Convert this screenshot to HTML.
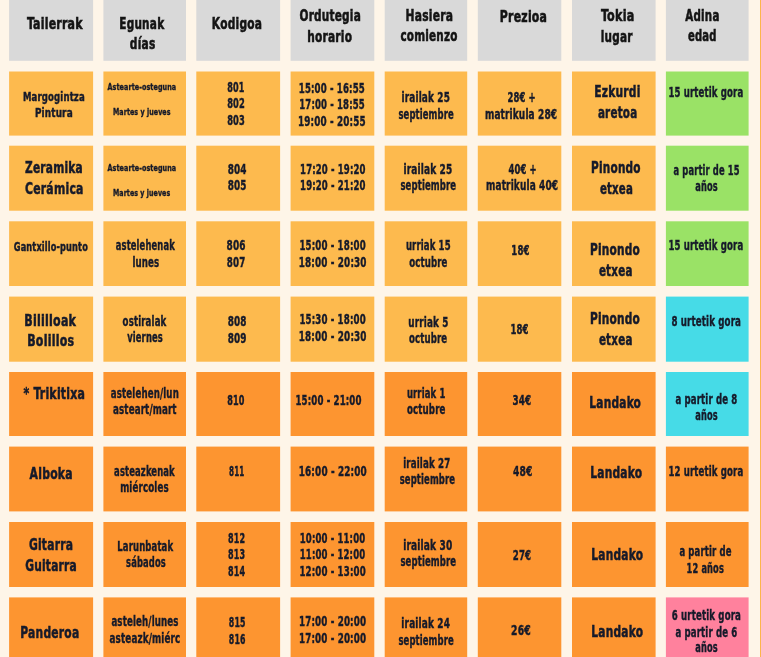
<!DOCTYPE html>
<html><head><meta charset="utf-8"><title>Tailerrak</title><style>
html,body{margin:0;padding:0;background:#fef5e8;}
body{width:761px;height:657px;overflow:hidden;}
svg{display:block;filter:blur(0.35px);}
text{font-family:"DejaVu Sans Condensed", "DejaVu Sans", sans-serif;font-weight:bold;fill:#161a2a;white-space:pre;}
.H{font-size:16.1px;stroke:#161a2a;stroke-width:0.55px;letter-spacing:0.3px;}
.N{font-size:16.2px;stroke:#161a2a;stroke-width:0.5px;letter-spacing:0.3px;}
.M{font-size:12.9px;stroke:#161a2a;stroke-width:0.45px;letter-spacing:0.2px;}
.B{font-size:13.4px;stroke:#161a2a;stroke-width:0.4px;letter-spacing:0.2px;}
.S{font-size:9.0px;stroke:#161a2a;stroke-width:0.35px;letter-spacing:0.1px;}
.H{fill:#141414;stroke:#141414;}
</style></head><body>
<svg width="761" height="657" viewBox="0 0 761 657">
<rect x="0" y="0" width="761" height="657" fill="#fef5e8"/>
<rect x="9.10" y="-4.00" width="84.00" height="64.80" fill="#d9d9d9"/>
<rect x="103.40" y="-4.00" width="82.60" height="64.80" fill="#d9d9d9"/>
<rect x="196.30" y="-4.00" width="83.80" height="64.80" fill="#d9d9d9"/>
<rect x="290.60" y="-4.00" width="83.70" height="64.80" fill="#d9d9d9"/>
<rect x="384.70" y="-4.00" width="82.50" height="64.80" fill="#d9d9d9"/>
<rect x="477.80" y="-4.00" width="83.50" height="64.80" fill="#d9d9d9"/>
<rect x="572.00" y="-4.00" width="83.60" height="64.80" fill="#d9d9d9"/>
<rect x="665.90" y="-4.00" width="82.70" height="64.80" fill="#d9d9d9"/>
<rect x="9.10" y="71.50" width="84.00" height="64.10" fill="#fdba4e"/>
<rect x="103.40" y="71.50" width="82.60" height="64.10" fill="#fdba4e"/>
<rect x="196.30" y="71.50" width="83.80" height="64.10" fill="#fdba4e"/>
<rect x="290.60" y="71.50" width="83.70" height="64.10" fill="#fdba4e"/>
<rect x="384.70" y="71.50" width="82.50" height="64.10" fill="#fdba4e"/>
<rect x="477.80" y="71.50" width="83.50" height="64.10" fill="#fdba4e"/>
<rect x="572.00" y="71.50" width="83.60" height="64.10" fill="#fdba4e"/>
<rect x="665.90" y="71.50" width="82.70" height="64.10" fill="#9ae266"/>
<rect x="9.10" y="145.70" width="84.00" height="65.00" fill="#fdba4e"/>
<rect x="103.40" y="145.70" width="82.60" height="65.00" fill="#fdba4e"/>
<rect x="196.30" y="145.70" width="83.80" height="65.00" fill="#fdba4e"/>
<rect x="290.60" y="145.70" width="83.70" height="65.00" fill="#fdba4e"/>
<rect x="384.70" y="145.70" width="82.50" height="65.00" fill="#fdba4e"/>
<rect x="477.80" y="145.70" width="83.50" height="65.00" fill="#fdba4e"/>
<rect x="572.00" y="145.70" width="83.60" height="65.00" fill="#fdba4e"/>
<rect x="665.90" y="145.70" width="82.70" height="65.00" fill="#9ae266"/>
<rect x="9.10" y="221.30" width="84.00" height="64.70" fill="#fdba4e"/>
<rect x="103.40" y="221.30" width="82.60" height="64.70" fill="#fdba4e"/>
<rect x="196.30" y="221.30" width="83.80" height="64.70" fill="#fdba4e"/>
<rect x="290.60" y="221.30" width="83.70" height="64.70" fill="#fdba4e"/>
<rect x="384.70" y="221.30" width="82.50" height="64.70" fill="#fdba4e"/>
<rect x="477.80" y="221.30" width="83.50" height="64.70" fill="#fdba4e"/>
<rect x="572.00" y="221.30" width="83.60" height="64.70" fill="#fdba4e"/>
<rect x="665.90" y="221.30" width="82.70" height="64.70" fill="#9ae266"/>
<rect x="9.10" y="296.60" width="84.00" height="65.10" fill="#fdba4e"/>
<rect x="103.40" y="296.60" width="82.60" height="65.10" fill="#fdba4e"/>
<rect x="196.30" y="296.60" width="83.80" height="65.10" fill="#fdba4e"/>
<rect x="290.60" y="296.60" width="83.70" height="65.10" fill="#fdba4e"/>
<rect x="384.70" y="296.60" width="82.50" height="65.10" fill="#fdba4e"/>
<rect x="477.80" y="296.60" width="83.50" height="65.10" fill="#fdba4e"/>
<rect x="572.00" y="296.60" width="83.60" height="65.10" fill="#fdba4e"/>
<rect x="665.90" y="296.60" width="82.70" height="65.10" fill="#46dbe7"/>
<rect x="9.10" y="372.00" width="84.00" height="64.00" fill="#fd9530"/>
<rect x="103.40" y="372.00" width="82.60" height="64.00" fill="#fd9530"/>
<rect x="196.30" y="372.00" width="83.80" height="64.00" fill="#fd9530"/>
<rect x="290.60" y="372.00" width="83.70" height="64.00" fill="#fd9530"/>
<rect x="384.70" y="372.00" width="82.50" height="64.00" fill="#fd9530"/>
<rect x="477.80" y="372.00" width="83.50" height="64.00" fill="#fd9530"/>
<rect x="572.00" y="372.00" width="83.60" height="64.00" fill="#fd9530"/>
<rect x="665.90" y="372.00" width="82.70" height="64.00" fill="#46dbe7"/>
<rect x="9.10" y="446.60" width="84.00" height="64.80" fill="#fd9530"/>
<rect x="103.40" y="446.60" width="82.60" height="64.80" fill="#fd9530"/>
<rect x="196.30" y="446.60" width="83.80" height="64.80" fill="#fd9530"/>
<rect x="290.60" y="446.60" width="83.70" height="64.80" fill="#fd9530"/>
<rect x="384.70" y="446.60" width="82.50" height="64.80" fill="#fd9530"/>
<rect x="477.80" y="446.60" width="83.50" height="64.80" fill="#fd9530"/>
<rect x="572.00" y="446.60" width="83.60" height="64.80" fill="#fd9530"/>
<rect x="665.90" y="446.60" width="82.70" height="64.80" fill="#fd9530"/>
<rect x="9.10" y="522.00" width="84.00" height="65.00" fill="#fd9530"/>
<rect x="103.40" y="522.00" width="82.60" height="65.00" fill="#fd9530"/>
<rect x="196.30" y="522.00" width="83.80" height="65.00" fill="#fd9530"/>
<rect x="290.60" y="522.00" width="83.70" height="65.00" fill="#fd9530"/>
<rect x="384.70" y="522.00" width="82.50" height="65.00" fill="#fd9530"/>
<rect x="477.80" y="522.00" width="83.50" height="65.00" fill="#fd9530"/>
<rect x="572.00" y="522.00" width="83.60" height="65.00" fill="#fd9530"/>
<rect x="665.90" y="522.00" width="82.70" height="65.00" fill="#fd9530"/>
<rect x="9.10" y="597.40" width="84.00" height="72.60" fill="#fd9530"/>
<rect x="103.40" y="597.40" width="82.60" height="72.60" fill="#fd9530"/>
<rect x="196.30" y="597.40" width="83.80" height="72.60" fill="#fd9530"/>
<rect x="290.60" y="597.40" width="83.70" height="72.60" fill="#fd9530"/>
<rect x="384.70" y="597.40" width="82.50" height="72.60" fill="#fd9530"/>
<rect x="477.80" y="597.40" width="83.50" height="72.60" fill="#fd9530"/>
<rect x="572.00" y="597.40" width="83.60" height="72.60" fill="#fd9530"/>
<rect x="665.90" y="597.40" width="82.70" height="72.60" fill="#ff819d"/>
<rect x="760" y="0" width="1" height="657" fill="#fdb54a"/>
<text class="H" x="26.90" y="29.20" textLength="55.84" lengthAdjust="spacingAndGlyphs">Tailerrak</text>
<text class="H" x="119.27" y="28.90" textLength="45.07" lengthAdjust="spacingAndGlyphs">Egunak</text>
<text class="H" x="129.80" y="48.90" textLength="25.68" lengthAdjust="spacingAndGlyphs">días</text>
<text class="H" x="211.86" y="28.90" textLength="50.32" lengthAdjust="spacingAndGlyphs">Kodigoa</text>
<text class="H" x="299.50" y="21.30" textLength="61.48" lengthAdjust="spacingAndGlyphs">Ordutegia</text>
<text class="H" x="307.27" y="42.30" textLength="44.91" lengthAdjust="spacingAndGlyphs">horario</text>
<text class="H" x="405.56" y="20.80" textLength="47.53" lengthAdjust="spacingAndGlyphs">Hasiera</text>
<text class="H" x="400.40" y="40.70" textLength="57.28" lengthAdjust="spacingAndGlyphs">comienzo</text>
<text class="H" x="499.85" y="21.70" textLength="47.36" lengthAdjust="spacingAndGlyphs">Prezioa</text>
<text class="H" x="600.90" y="21.40" textLength="33.62" lengthAdjust="spacingAndGlyphs">Tokia</text>
<text class="H" x="600.78" y="42.30" textLength="31.82" lengthAdjust="spacingAndGlyphs">lugar</text>
<text class="H" x="685.30" y="20.60" textLength="34.26" lengthAdjust="spacingAndGlyphs">Adina</text>
<text class="H" x="687.90" y="41.00" textLength="28.76" lengthAdjust="spacingAndGlyphs">edad</text>
<text class="M" x="22.97" y="100.50" textLength="61.89" lengthAdjust="spacingAndGlyphs">Margogintza</text>
<text class="M" x="34.94" y="116.50" textLength="37.85" lengthAdjust="spacingAndGlyphs">Pintura</text>
<text class="S" x="107.50" y="90.00" textLength="68.75" lengthAdjust="spacingAndGlyphs">Astearte-osteguna</text>
<text class="S" x="113.00" y="115.00" textLength="57.54" lengthAdjust="spacingAndGlyphs">Martes y jueves</text>
<text class="B" x="227.20" y="91.90" textLength="17.29" lengthAdjust="spacingAndGlyphs">801</text>
<text class="B" x="227.20" y="108.40" textLength="17.80" lengthAdjust="spacingAndGlyphs">802</text>
<text class="B" x="227.20" y="124.80" textLength="17.80" lengthAdjust="spacingAndGlyphs">803</text>
<text class="B" x="298.79" y="93.00" textLength="66.13" lengthAdjust="spacingAndGlyphs">15:00 - 16:55</text>
<text class="B" x="299.29" y="109.30" textLength="65.62" lengthAdjust="spacingAndGlyphs">17:00 - 18:55</text>
<text class="B" x="298.07" y="126.10" textLength="67.76" lengthAdjust="spacingAndGlyphs">19:00 - 20:55</text>
<text class="B" x="401.56" y="102.20" textLength="48.47" lengthAdjust="spacingAndGlyphs">irailak 25</text>
<text class="B" x="398.40" y="118.90" textLength="55.46" lengthAdjust="spacingAndGlyphs">septiembre</text>
<text class="B" x="507.40" y="102.20" textLength="28.31" lengthAdjust="spacingAndGlyphs">28€ +</text>
<text class="B" x="484.96" y="118.90" textLength="72.17" lengthAdjust="spacingAndGlyphs">matrikula 28€</text>
<text class="N" x="594.16" y="96.90" textLength="46.48" lengthAdjust="spacingAndGlyphs">Ezkurdi</text>
<text class="N" x="597.90" y="117.60" textLength="39.50" lengthAdjust="spacingAndGlyphs">aretoa</text>
<text class="B" x="668.39" y="96.90" textLength="74.94" lengthAdjust="spacingAndGlyphs">15 urtetik gora</text>
<text class="N" x="25.00" y="173.10" textLength="57.92" lengthAdjust="spacingAndGlyphs">Zeramika</text>
<text class="N" x="25.00" y="194.10" textLength="58.64" lengthAdjust="spacingAndGlyphs">Cerámica</text>
<text class="S" x="107.50" y="170.60" textLength="68.75" lengthAdjust="spacingAndGlyphs">Astearte-osteguna</text>
<text class="S" x="113.00" y="195.50" textLength="57.24" lengthAdjust="spacingAndGlyphs">Martes y jueves</text>
<text class="B" x="227.70" y="173.50" textLength="18.93" lengthAdjust="spacingAndGlyphs">804</text>
<text class="B" x="227.70" y="190.20" textLength="18.93" lengthAdjust="spacingAndGlyphs">805</text>
<text class="B" x="300.09" y="173.50" textLength="65.52" lengthAdjust="spacingAndGlyphs">17:20 - 19:20</text>
<text class="B" x="300.09" y="190.20" textLength="65.52" lengthAdjust="spacingAndGlyphs">19:20 - 21:20</text>
<text class="B" x="403.55" y="173.50" textLength="48.88" lengthAdjust="spacingAndGlyphs">irailak 25</text>
<text class="B" x="400.40" y="190.00" textLength="55.86" lengthAdjust="spacingAndGlyphs">septiembre</text>
<text class="B" x="508.50" y="173.50" textLength="28.20" lengthAdjust="spacingAndGlyphs">40€ +</text>
<text class="B" x="486.06" y="190.20" textLength="72.17" lengthAdjust="spacingAndGlyphs">matrikula 40€</text>
<text class="N" x="590.98" y="173.20" textLength="49.84" lengthAdjust="spacingAndGlyphs">Pinondo</text>
<text class="N" x="599.90" y="193.90" textLength="33.19" lengthAdjust="spacingAndGlyphs">etxea</text>
<text class="B" x="673.50" y="174.80" textLength="66.10" lengthAdjust="spacingAndGlyphs">a partir de 15</text>
<text class="B" x="695.20" y="191.00" textLength="22.56" lengthAdjust="spacingAndGlyphs">años</text>
<text class="M" x="13.80" y="250.90" textLength="74.12" lengthAdjust="spacingAndGlyphs">Gantxillo-punto</text>
<text class="B" x="115.80" y="250.20" textLength="59.05" lengthAdjust="spacingAndGlyphs">astelehenak</text>
<text class="B" x="132.38" y="266.50" textLength="26.98" lengthAdjust="spacingAndGlyphs">lunes</text>
<text class="B" x="226.50" y="249.80" textLength="19.13" lengthAdjust="spacingAndGlyphs">806</text>
<text class="B" x="226.80" y="266.50" textLength="18.62" lengthAdjust="spacingAndGlyphs">807</text>
<text class="B" x="299.38" y="249.80" textLength="66.43" lengthAdjust="spacingAndGlyphs">15:00 - 18:00</text>
<text class="B" x="298.77" y="266.50" textLength="67.86" lengthAdjust="spacingAndGlyphs">18:00 - 20:30</text>
<text class="B" x="405.90" y="250.20" textLength="44.81" lengthAdjust="spacingAndGlyphs">urriak 15</text>
<text class="B" x="409.20" y="266.50" textLength="38.37" lengthAdjust="spacingAndGlyphs">octubre</text>
<text class="B" x="511.29" y="255.10" textLength="18.33" lengthAdjust="spacingAndGlyphs">18€</text>
<text class="N" x="589.97" y="254.80" textLength="50.15" lengthAdjust="spacingAndGlyphs">Pinondo</text>
<text class="N" x="598.90" y="275.70" textLength="33.70" lengthAdjust="spacingAndGlyphs">etxea</text>
<text class="B" x="668.39" y="250.10" textLength="74.94" lengthAdjust="spacingAndGlyphs">15 urtetik gora</text>
<text class="N" x="24.24" y="325.50" textLength="51.95" lengthAdjust="spacingAndGlyphs">Bililloak</text>
<text class="N" x="27.24" y="346.20" textLength="47.09" lengthAdjust="spacingAndGlyphs">Bolillos</text>
<text class="B" x="122.60" y="325.70" textLength="43.84" lengthAdjust="spacingAndGlyphs">ostiralak</text>
<text class="B" x="127.20" y="341.90" textLength="35.76" lengthAdjust="spacingAndGlyphs">viernes</text>
<text class="B" x="227.70" y="326.40" textLength="18.93" lengthAdjust="spacingAndGlyphs">808</text>
<text class="B" x="227.70" y="343.20" textLength="18.93" lengthAdjust="spacingAndGlyphs">809</text>
<text class="B" x="299.38" y="324.40" textLength="66.43" lengthAdjust="spacingAndGlyphs">15:30 - 18:00</text>
<text class="B" x="298.77" y="341.00" textLength="67.86" lengthAdjust="spacingAndGlyphs">18:00 - 20:30</text>
<text class="B" x="408.30" y="326.50" textLength="40.23" lengthAdjust="spacingAndGlyphs">urriak 5</text>
<text class="B" x="408.90" y="342.80" textLength="38.37" lengthAdjust="spacingAndGlyphs">octubre</text>
<text class="B" x="510.39" y="333.60" textLength="18.22" lengthAdjust="spacingAndGlyphs">18€</text>
<text class="N" x="589.97" y="324.40" textLength="50.15" lengthAdjust="spacingAndGlyphs">Pinondo</text>
<text class="N" x="598.90" y="344.90" textLength="33.70" lengthAdjust="spacingAndGlyphs">etxea</text>
<text class="B" x="671.50" y="326.40" textLength="69.53" lengthAdjust="spacingAndGlyphs">8 urtetik gora</text>
<text class="N" x="23.40" y="398.90" textLength="61.85" lengthAdjust="spacingAndGlyphs">* Trikitixa</text>
<text class="B" x="110.80" y="397.60" textLength="68.16" lengthAdjust="spacingAndGlyphs">astelehen/lun</text>
<text class="B" x="113.00" y="414.30" textLength="63.67" lengthAdjust="spacingAndGlyphs">asteart/mart</text>
<text class="B" x="227.20" y="405.10" textLength="17.29" lengthAdjust="spacingAndGlyphs">810</text>
<text class="B" x="295.49" y="404.80" textLength="66.13" lengthAdjust="spacingAndGlyphs">15:00 - 21:00</text>
<text class="B" x="406.90" y="397.60" textLength="38.51" lengthAdjust="spacingAndGlyphs">urriak 1</text>
<text class="B" x="406.90" y="414.30" textLength="38.67" lengthAdjust="spacingAndGlyphs">octubre</text>
<text class="B" x="512.40" y="404.80" textLength="18.83" lengthAdjust="spacingAndGlyphs">34€</text>
<text class="N" x="589.27" y="408.10" textLength="51.85" lengthAdjust="spacingAndGlyphs">Landako</text>
<text class="B" x="675.50" y="404.20" textLength="61.91" lengthAdjust="spacingAndGlyphs">a partir de 8</text>
<text class="B" x="695.20" y="420.20" textLength="22.56" lengthAdjust="spacingAndGlyphs">años</text>
<text class="N" x="29.60" y="478.50" textLength="43.24" lengthAdjust="spacingAndGlyphs">Alboka</text>
<text class="B" x="114.10" y="475.50" textLength="60.75" lengthAdjust="spacingAndGlyphs">asteazkenak</text>
<text class="B" x="120.18" y="491.60" textLength="48.69" lengthAdjust="spacingAndGlyphs">miércoles</text>
<text class="B" x="229.00" y="475.50" textLength="15.45" lengthAdjust="spacingAndGlyphs">811</text>
<text class="B" x="298.76" y="476.10" textLength="68.16" lengthAdjust="spacingAndGlyphs">16:00 - 22:00</text>
<text class="B" x="403.28" y="468.00" textLength="47.04" lengthAdjust="spacingAndGlyphs">irailak 27</text>
<text class="B" x="399.70" y="484.00" textLength="55.46" lengthAdjust="spacingAndGlyphs">septiembre</text>
<text class="B" x="513.10" y="476.10" textLength="19.44" lengthAdjust="spacingAndGlyphs">48€</text>
<text class="N" x="590.16" y="477.50" textLength="52.26" lengthAdjust="spacingAndGlyphs">Landako</text>
<text class="B" x="668.39" y="475.50" textLength="74.94" lengthAdjust="spacingAndGlyphs">12 urtetik gora</text>
<text class="N" x="28.90" y="549.80" textLength="44.23" lengthAdjust="spacingAndGlyphs">Gitarra</text>
<text class="N" x="25.20" y="570.50" textLength="51.82" lengthAdjust="spacingAndGlyphs">Guitarra</text>
<text class="B" x="117.30" y="550.70" textLength="55.95" lengthAdjust="spacingAndGlyphs">Larunbatak</text>
<text class="B" x="126.10" y="567.20" textLength="39.76" lengthAdjust="spacingAndGlyphs">sábados</text>
<text class="B" x="228.10" y="542.60" textLength="17.19" lengthAdjust="spacingAndGlyphs">812</text>
<text class="B" x="228.10" y="559.00" textLength="17.19" lengthAdjust="spacingAndGlyphs">813</text>
<text class="B" x="228.10" y="575.70" textLength="17.19" lengthAdjust="spacingAndGlyphs">814</text>
<text class="B" x="299.79" y="542.60" textLength="65.52" lengthAdjust="spacingAndGlyphs">10:00 - 11:00</text>
<text class="B" x="299.79" y="559.00" textLength="65.52" lengthAdjust="spacingAndGlyphs">11:00 - 12:00</text>
<text class="B" x="299.38" y="575.70" textLength="66.43" lengthAdjust="spacingAndGlyphs">12:00 - 13:00</text>
<text class="B" x="403.25" y="549.80" textLength="49.19" lengthAdjust="spacingAndGlyphs">irailak 30</text>
<text class="B" x="400.40" y="566.20" textLength="55.86" lengthAdjust="spacingAndGlyphs">septiembre</text>
<text class="B" x="512.80" y="559.90" textLength="18.42" lengthAdjust="spacingAndGlyphs">27€</text>
<text class="N" x="591.27" y="560.10" textLength="51.96" lengthAdjust="spacingAndGlyphs">Landako</text>
<text class="B" x="679.40" y="556.00" textLength="52.16" lengthAdjust="spacingAndGlyphs">a partir de</text>
<text class="B" x="686.62" y="572.80" textLength="37.34" lengthAdjust="spacingAndGlyphs">12 años</text>
<text class="N" x="20.26" y="637.60" textLength="59.17" lengthAdjust="spacingAndGlyphs">Panderoa</text>
<text class="B" x="111.40" y="626.10" textLength="67.27" lengthAdjust="spacingAndGlyphs">asteleh/lunes</text>
<text class="B" x="109.50" y="642.60" textLength="70.95" lengthAdjust="spacingAndGlyphs">asteazk/miérc</text>
<text class="B" x="228.80" y="627.10" textLength="16.78" lengthAdjust="spacingAndGlyphs">815</text>
<text class="B" x="228.80" y="643.90" textLength="16.78" lengthAdjust="spacingAndGlyphs">816</text>
<text class="B" x="298.97" y="626.10" textLength="67.25" lengthAdjust="spacingAndGlyphs">17:00 - 20:00</text>
<text class="B" x="298.97" y="643.00" textLength="67.25" lengthAdjust="spacingAndGlyphs">17:00 - 20:00</text>
<text class="B" x="401.36" y="628.10" textLength="48.68" lengthAdjust="spacingAndGlyphs">irailak 24</text>
<text class="B" x="398.40" y="644.50" textLength="55.46" lengthAdjust="spacingAndGlyphs">septiembre</text>
<text class="B" x="511.10" y="635.30" textLength="19.75" lengthAdjust="spacingAndGlyphs">26€</text>
<text class="N" x="591.27" y="636.60" textLength="51.96" lengthAdjust="spacingAndGlyphs">Landako</text>
<text class="B" x="671.80" y="619.60" textLength="69.23" lengthAdjust="spacingAndGlyphs">6 urtetik gora</text>
<text class="B" x="675.50" y="636.60" textLength="61.91" lengthAdjust="spacingAndGlyphs">a partir de 6</text>
<text class="B" x="695.20" y="652.40" textLength="22.56" lengthAdjust="spacingAndGlyphs">años</text>
</svg>
</body></html>
